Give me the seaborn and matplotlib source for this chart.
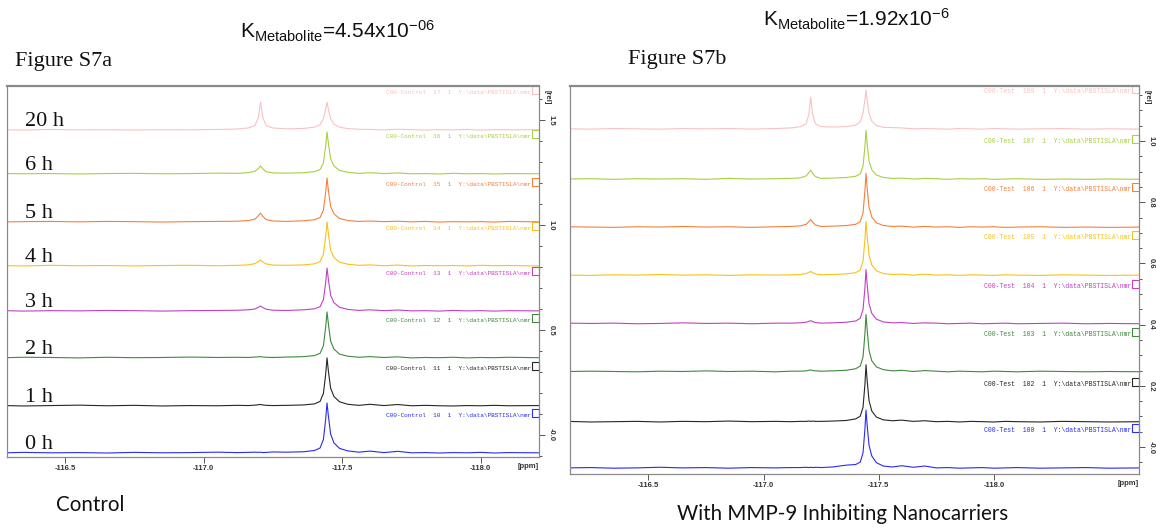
import numpy as np
import pandas as pd
import matplotlib
matplotlib.use("Agg")
import matplotlib.pyplot as plt
import matplotlib.transforms as mtransforms
from matplotlib.patches import Rectangle
from matplotlib.ticker import MultipleLocator, FixedLocator, FuncFormatter
import seaborn as sns

# chemical shift grid (ppm), shared by all spectra
ppm = [-116.15, -116.25, -116.35, -116.45, -116.55, -116.65, -116.75, -116.85, -116.95, -117.05,
       -117.12, -117.16, -117.185, -117.197, -117.205, -117.213, -117.225, -117.25, -117.30,
       -117.36, -117.40, -117.42, -117.432, -117.440, -117.445, -117.450, -117.458, -117.47,
       -117.49, -117.52, -117.56, -117.60, -117.65, -117.70, -117.75, -117.80, -117.85, -117.90,
       -117.95, -118.00, -118.05, -118.10, -118.20, -118.30, -118.40, -118.50, -118.65]

# Figure S7a - control, intensity above each trace baseline [rel]
ctrl_0h = [0.002, 0.000, 0.003, 0.001, 0.002, 0.000, 0.003, 0.001, 0.002, 0.004, 0.002,
           0.003, 0.004, 0.003, 0.004, 0.002, 0.003, 0.005, 0.004,
           0.006, 0.012, 0.024, 0.065, 0.160, 0.238, 0.175, 0.090, 0.048, 0.022, 0.010, 0.004,
           0.009, 0.002, 0.008, 0.001, 0.002, 0.000, 0.002, 0.001, 0.003, 0.000, 0.002, 0.001, 0.002, 0.000, 0.001, 0.000]
ctrl_1h = [0.001, 0.003, 0.000, 0.002, 0.004, 0.001, 0.003, 0.000, 0.002, 0.001, 0.003,
           0.002, 0.004, 0.006, 0.007, 0.005, 0.003, 0.002, 0.003,
           0.005, 0.010, 0.022, 0.060, 0.150, 0.229, 0.165, 0.085, 0.045, 0.020, 0.008, 0.003,
           0.008, 0.002, 0.007, 0.001, 0.003, 0.001, 0.000, 0.002, 0.001, 0.003, 0.001, 0.002, 0.000, 0.001, 0.002, 0.000]
ctrl_2h = [0.002, 0.000, 0.003, 0.002, 0.000, 0.003, 0.001, 0.002, 0.004, 0.002, 0.003,
           0.002, 0.004, 0.005, 0.006, 0.004, 0.003, 0.002, 0.004,
           0.006, 0.011, 0.022, 0.058, 0.145, 0.219, 0.160, 0.080, 0.042, 0.018, 0.008, 0.003,
           0.006, 0.002, 0.005, 0.000, 0.002, 0.001, 0.003, 0.000, 0.002, 0.001, 0.003, 0.001, 0.000, 0.002, 0.001, 0.000]
ctrl_3h = [0.002, 0.003, 0.000, 0.002, 0.001, 0.003, 0.002, 0.000, 0.002, 0.003, 0.004,
           0.006, 0.010, 0.018, 0.024, 0.017, 0.009, 0.004, 0.003,
           0.006, 0.011, 0.021, 0.055, 0.135, 0.205, 0.150, 0.075, 0.040, 0.018, 0.008, 0.003,
           0.006, 0.002, 0.005, 0.001, 0.002, 0.000, 0.003, 0.001, 0.002, 0.000, 0.002, 0.001, 0.003, 0.000, 0.001, 0.000]
ctrl_4h = [0.001, 0.002, 0.000, 0.003, 0.001, 0.002, 0.000, 0.002, 0.003, 0.001, 0.003,
           0.005, 0.011, 0.020, 0.028, 0.019, 0.010, 0.004, 0.003,
           0.005, 0.010, 0.021, 0.056, 0.140, 0.210, 0.152, 0.076, 0.040, 0.018, 0.008, 0.003,
           0.005, 0.001, 0.004, 0.000, 0.002, 0.001, 0.002, 0.000, 0.003, 0.001, 0.002, 0.000, 0.002, 0.001, 0.000, 0.001]
ctrl_5h = [0.002, 0.000, 0.002, 0.003, 0.001, 0.003, 0.002, 0.000, 0.002, 0.003, 0.004,
           0.007, 0.014, 0.030, 0.043, 0.028, 0.012, 0.005, 0.003,
           0.006, 0.011, 0.022, 0.057, 0.140, 0.210, 0.150, 0.074, 0.039, 0.017, 0.007, 0.003,
           0.005, 0.002, 0.004, 0.001, 0.003, 0.000, 0.002, 0.001, 0.002, 0.000, 0.003, 0.001, 0.002, 0.000, 0.001, 0.000]
ctrl_6h = [0.001, 0.003, 0.001, 0.002, 0.000, 0.002, 0.003, 0.001, 0.002, 0.004, 0.003,
           0.006, 0.013, 0.026, 0.038, 0.025, 0.011, 0.005, 0.004,
           0.006, 0.011, 0.021, 0.054, 0.133, 0.200, 0.145, 0.072, 0.038, 0.017, 0.008, 0.003,
           0.006, 0.002, 0.005, 0.001, 0.002, 0.000, 0.003, 0.001, 0.002, 0.000, 0.002, 0.001, 0.003, 0.000, 0.001, 0.000]
ctrl_20h = [0.001, 0.002, 0.000, 0.003, 0.001, 0.002, 0.000, 0.002, 0.001, 0.003, 0.005,
            0.010, 0.022, 0.060, 0.133, 0.062, 0.022, 0.010, 0.006,
            0.008, 0.014, 0.026, 0.055, 0.100, 0.133, 0.098, 0.055, 0.028, 0.014, 0.007, 0.004,
            0.003, 0.001, 0.004, 0.002, 0.000, 0.002, 0.001, 0.003, 0.000, 0.002, 0.001, 0.002, 0.000, 0.001, 0.000, 0.001]

# Figure S7b - with MMP-9 inhibiting nanocarriers
test_0h = [0.001, 0.002, 0.000, 0.001, 0.003, 0.001, 0.002, 0.000, 0.002, 0.001, 0.002,
           0.002, 0.003, 0.002, 0.003, 0.002, 0.003, 0.002, 0.004,
           0.010, 0.012, 0.020, 0.050, 0.125, 0.190, 0.140, 0.075, 0.040, 0.018, 0.007, 0.004,
           0.008, 0.003, 0.007, 0.001, 0.002, 0.000, 0.001, 0.002, 0.000, 0.001, 0.002, 0.000, 0.001, 0.002, 0.000, 0.001]
test_1h = [0.002, 0.000, 0.001, 0.002, 0.000, 0.002, 0.001, 0.003, 0.001, 0.002, 0.001,
           0.002, 0.002, 0.003, 0.002, 0.003, 0.002, 0.002, 0.003,
           0.005, 0.010, 0.019, 0.048, 0.120, 0.187, 0.135, 0.070, 0.036, 0.016, 0.007, 0.004,
           0.006, 0.002, 0.004, 0.001, 0.002, 0.000, 0.002, 0.001, 0.000, 0.002, 0.001, 0.000, 0.002, 0.001, 0.000, 0.001]
test_2h = [0.001, 0.002, 0.001, 0.000, 0.002, 0.001, 0.003, 0.001, 0.002, 0.000, 0.002,
           0.002, 0.003, 0.005, 0.006, 0.004, 0.003, 0.002, 0.003,
           0.005, 0.010, 0.019, 0.048, 0.122, 0.187, 0.137, 0.070, 0.036, 0.016, 0.007, 0.003,
           0.005, 0.001, 0.004, 0.002, 0.000, 0.002, 0.001, 0.000, 0.002, 0.001, 0.000, 0.002, 0.001, 0.000, 0.001, 0.000]
test_3h = [0.002, 0.001, 0.002, 0.000, 0.001, 0.003, 0.001, 0.002, 0.000, 0.002, 0.002,
           0.003, 0.005, 0.008, 0.010, 0.007, 0.004, 0.002, 0.003,
           0.005, 0.009, 0.018, 0.046, 0.115, 0.177, 0.128, 0.066, 0.034, 0.015, 0.006, 0.003,
           0.004, 0.001, 0.003, 0.002, 0.000, 0.001, 0.002, 0.000, 0.001, 0.002, 0.000, 0.001, 0.002, 0.000, 0.001, 0.000]
test_4h = [0.001, 0.000, 0.002, 0.001, 0.003, 0.001, 0.002, 0.000, 0.002, 0.001, 0.002,
           0.003, 0.006, 0.010, 0.013, 0.009, 0.005, 0.002, 0.003,
           0.005, 0.009, 0.018, 0.046, 0.115, 0.177, 0.128, 0.066, 0.034, 0.015, 0.006, 0.003,
           0.004, 0.001, 0.004, 0.001, 0.002, 0.000, 0.002, 0.001, 0.000, 0.002, 0.001, 0.000, 0.002, 0.001, 0.000, 0.001]
test_5h = [0.002, 0.001, 0.000, 0.002, 0.001, 0.003, 0.001, 0.002, 0.000, 0.002, 0.003,
           0.005, 0.010, 0.019, 0.026, 0.017, 0.008, 0.003, 0.004,
           0.006, 0.010, 0.019, 0.047, 0.117, 0.177, 0.128, 0.066, 0.034, 0.015, 0.006, 0.003,
           0.004, 0.001, 0.003, 0.001, 0.002, 0.000, 0.002, 0.001, 0.002, 0.000, 0.001, 0.002, 0.000, 0.001, 0.000, 0.001]
test_6h = [0.001, 0.002, 0.000, 0.002, 0.001, 0.002, 0.000, 0.003, 0.001, 0.002, 0.003,
           0.005, 0.011, 0.022, 0.030, 0.020, 0.009, 0.003, 0.004,
           0.006, 0.010, 0.018, 0.043, 0.105, 0.160, 0.116, 0.060, 0.031, 0.014, 0.006, 0.003,
           0.004, 0.001, 0.003, 0.002, 0.000, 0.002, 0.001, 0.002, 0.000, 0.001, 0.002, 0.000, 0.001, 0.000, 0.001, 0.000]
test_20h = [0.001, 0.000, 0.002, 0.001, 0.000, 0.002, 0.001, 0.002, 0.000, 0.002, 0.004,
            0.008, 0.018, 0.048, 0.105, 0.050, 0.018, 0.008, 0.007,
            0.008, 0.013, 0.024, 0.052, 0.095, 0.128, 0.094, 0.052, 0.026, 0.012, 0.006, 0.005,
            0.004, 0.001, 0.002, 0.001, 0.000, 0.002, 0.001, 0.000, 0.002, 0.001, 0.000, 0.001, 0.002, 0.000, 0.001, 0.000]

hours = ["0 h", "1 h", "2 h", "3 h", "4 h", "5 h", "6 h", "20 h"]
ctrl_offsets = [-0.086, 0.138, 0.367, 0.590, 0.805, 1.014, 1.243, 1.452]
test_offsets = [-0.069, 0.082, 0.246, 0.403, 0.561, 0.718, 0.875, 1.039]
ctrl_ids = ["10", "11", "12", "13", "14", "15", "16", "17"]
test_ids = ["100", "102", "103", "104", "105", "106", "107", "108"]
ppm_ticks = [-116.5, -117.0, -117.5, -118.0]
colors = ["#2b2bf2", "#262626", "#3f8a3f", "#c240c2", "#f7c21a", "#f5803e", "#a9cf45", "#f9c2c2"]

ctrl_traces = [ctrl_0h, ctrl_1h, ctrl_2h, ctrl_3h, ctrl_4h, ctrl_5h, ctrl_6h, ctrl_20h]
test_traces = [test_0h, test_1h, test_2h, test_3h, test_4h, test_5h, test_6h, test_20h]

sns.set_style("white")
plt.rcParams["font.family"] = ["Liberation Sans", "DejaVu Sans"]
plt.rcParams["axes.unicode_minus"] = False
plt.rcParams["mathtext.fontset"] = "custom"
plt.rcParams["mathtext.rm"] = "Liberation Sans"
plt.rcParams["mathtext.it"] = "Liberation Sans"

W, H = 1156, 529
fig = plt.figure(figsize=(W / 100, H / 100), dpi=100)


def fx(x):
    return x / W


def fy(y):
    return 1 - y / H


def panel(x0, y0, x1, y1):
    return fig.add_axes([fx(x0), fy(y1), fx(x1 - x0), (y1 - y0) / H])


ax1 = panel(7, 86, 539, 457)
ax2 = panel(570, 86, 1139, 474)


def draw_stack(ax, traces, offsets, ids, prefix, xlim, ylim, major, minor, lab_dy, box_h, fsize):
    frames = []
    for name, vals, off in zip(hours, traces, offsets):
        frames.append(pd.DataFrame({"ppm": ppm, "y": np.array(vals) + off, "trace": name}))
    df = pd.concat(frames, ignore_index=True)
    sns.lineplot(data=df, x="ppm", y="y", hue="trace", hue_order=hours,
                 palette=dict(zip(hours, colors)), sort=False, estimator=None,
                 legend=False, lw=0.8, ax=ax)
    ax.set_xlim(*xlim)
    ax.set_ylim(*ylim)
    ax.set_xlabel("")
    ax.set_ylabel("")
    for sp in ax.spines.values():
        sp.set_color("#8a8a8a")
        sp.set_linewidth(0.9)
    ax.spines["top"].set_linewidth(1.6)

    ax.xaxis.set_major_locator(FixedLocator(ppm_ticks))
    ax.xaxis.set_minor_locator(MultipleLocator(0.1))
    ax.xaxis.set_major_formatter(FuncFormatter(lambda v, p: f"{v:.1f}"))
    ax.yaxis.tick_right()
    ax.yaxis.set_major_locator(MultipleLocator(major))
    ax.yaxis.set_minor_locator(MultipleLocator(minor))
    ax.yaxis.set_major_formatter(FuncFormatter(lambda v, p: "-0.0" if abs(v) < 1e-9 else f"{v:.1f}"))
    ax.tick_params(axis="both", which="both", direction="out", color="#555555", width=0.7,
                   labelsize=5.5, labelcolor="#333333", pad=2)
    ax.tick_params(axis="both", which="major", length=4)
    ax.tick_params(axis="both", which="minor", length=2.5)
    ax.tick_params(axis="x", bottom=True, top=False)
    ax.tick_params(axis="y", left=False, right=True, labelrotation=-90)
    for t in ax.get_xticklabels() + ax.get_yticklabels():
        t.set_fontweight("bold")
    for t in ax.get_yticklabels():
        t.set_va("center")

    ax.annotate("[ppm]", xy=(1, 0), xycoords="axes fraction", xytext=(0, -7),
                textcoords="offset points", ha="right", va="center",
                fontsize=5.5, fontweight="bold", color="#333333")
    ax.annotate("[rel]", xy=(1, 1), xycoords="axes fraction", xytext=(6, -8),
                textcoords="offset points", ha="center", va="center", rotation=-90,
                fontsize=5.5, fontweight="bold", color="#333333")

    blend = mtransforms.blended_transform_factory(ax.transAxes, ax.transData)
    bw = 7 / (ax.get_position().width * W)
    for off, tid, col in zip(offsets, ids, colors):
        yb = off + lab_dy
        ax.add_patch(Rectangle((1 - bw, yb), bw, box_h, transform=blend, fill=False,
                               edgecolor=col, lw=0.8, clip_on=False))
        ax.text(1 - bw - 0.002, yb, f"C00-{prefix}  {tid}  1  Y:\\data\\PBSTISLA\\nmr",
                transform=blend, ha="right", va="baseline", fontsize=fsize,
                family="Liberation Mono", color=col)


draw_stack(ax1, ctrl_traces, ctrl_offsets, ctrl_ids, "Control",
           (-116.29, -118.21), (-0.105, 1.662), 0.5, 0.1, 0.171, 0.038, 4.4)
draw_stack(ax2, test_traces, test_offsets, test_ids, "Test",
           (-116.16, -118.63), (-0.088, 1.18), 0.2, 0.05, 0.118, 0.026, 4.7)

# time labels on the control stack
blend1 = mtransforms.blended_transform_factory(ax1.transAxes, ax1.transData)
for off, lab in zip(ctrl_offsets, hours):
    ax1.text(18 / 532, off + 0.02, lab, transform=blend1, ha="left", va="baseline",
             fontsize=16, family="Liberation Serif", color="#111111")

# titles and captions
fig.text(fx(240), fy(39), r"K$_{\mathrm{Metabolite}}$=4.54x10$^{\mathrm{-06}}$",
         fontsize=15, ha="left", va="baseline", color="#111111")
fig.text(fx(763), fy(26), r"K$_{\mathrm{Metabolite}}$=1.92x10$^{\mathrm{-6}}$",
         fontsize=15, ha="left", va="baseline", color="#111111")
fig.text(fx(15), fy(66), "Figure S7a", fontsize=16, family="Liberation Serif",
         ha="left", va="baseline", color="#111111")
fig.text(fx(628), fy(64), "Figure S7b", fontsize=16, family="Liberation Serif",
         ha="left", va="baseline", color="#111111")
fig.text(fx(56), fy(505), "Control", fontsize=14.8, family="Lato", ha="left", va="center",
         color="#111111")
fig.text(fx(843), fy(514), "With MMP-9 Inhibiting Nanocarriers", fontsize=14.8, family="Lato",
         ha="center", va="center", color="#111111")

fig.savefig("out.png", dpi=100)
